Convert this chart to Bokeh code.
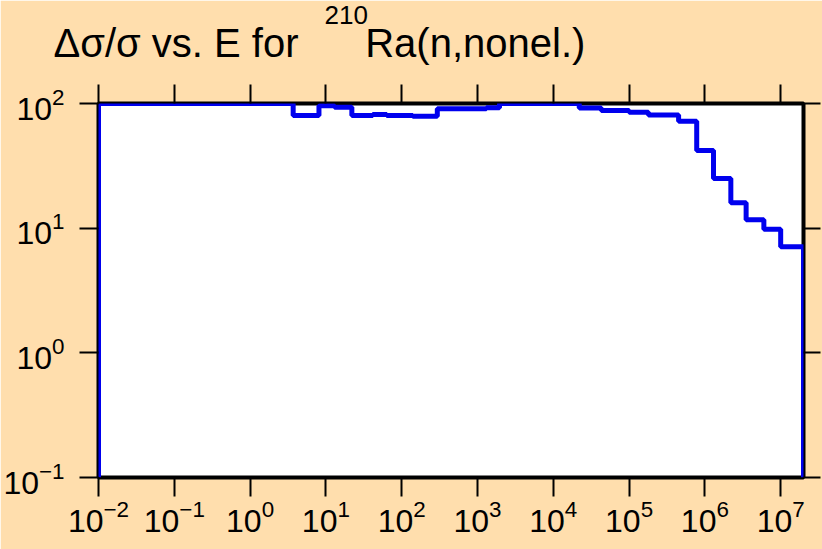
from bokeh.plotting import figure
from bokeh.models import LogAxis, FixedTicker, Range1d, Title
from bokeh.embed import file_html
from bokeh.resources import INLINE

# ---- data ----
bin_edges = [1e-2, 3.7, 8.1, 13, 22, 41.5, 63.5, 140, 295, 1310, 1950,
             2.2e4, 4.3e4, 1.0e5, 1.8e5, 4.5e5, 7.8e5, 1.3e6, 2.2e6,
             3.5e6, 6.0e6, 1.0e7, 2.0e7]
dsig_pct = [100, 80, 96, 93.5, 80, 81.7, 80, 79, 90.6, 92.3, 100,
            92, 88, 85, 81, 72, 42, 25, 16, 11.7, 9.8, 7.1]
x_ticks = [1e-2, 1e-1, 1e0, 1e1, 1e2, 1e3, 1e4, 1e5, 1e6, 1e7]
y_ticks = [1e-1, 1e0, 1e1, 1e2]
x_lim = (1e-2, 2e7)
y_lim = (1e-1, 1e2)
title_main = "Δσ/σ vs. E for"
title_sup = "210"
title_rest = "Ra(n,nonel.)"

# step outline built from the bins
xs = [bin_edges[0]]
ys = [y_lim[0]]
for i, v in enumerate(dsig_pct):
    xs += [bin_edges[i], bin_edges[i + 1]]
    ys += [v, v]
xs.append(bin_edges[-1])
ys.append(y_lim[0])

BG = "#FFDEAD"
FONT = "Liberation Sans"
NBSP = "\u00a0"

p = figure(width=822, height=549, x_axis_type="log", y_axis_type="log",
           x_range=Range1d(*x_lim), y_range=Range1d(*y_lim),
           output_backend="svg", toolbar_location=None,
           min_border_left=98, min_border_right=19,
           min_border_top=103, min_border_bottom=72,
           background_fill_color="white", border_fill_color=BG,
           outline_line_color="black", outline_line_width=4)
p.grid.visible = False

step = p.line(xs, ys, line_color="#0000ee", line_width=5)
step.level = "underlay"

top_ax = LogAxis()
right_ax = LogAxis()
p.add_layout(top_ax, "above")
p.add_layout(right_ax, "right")

for ax in p.xaxis:
    ax.ticker = FixedTicker(ticks=x_ticks)
for ax in p.yaxis:
    ax.ticker = FixedTicker(ticks=y_ticks)

for ax in list(p.xaxis) + list(p.yaxis):
    ax.axis_line_color = None
    ax.major_tick_in = 0
    ax.major_tick_out = 19
    ax.major_tick_line_color = "black"
    ax.major_tick_line_width = 2
    ax.minor_tick_line_color = None
    ax.major_label_text_font = FONT
    ax.major_label_text_font_size = "32px"
    ax.major_label_text_color = "black"

# top axis: ticks only (invisible 1px labels keep room for the title)
top_ax.major_label_text_font_size = "1px"
top_ax.major_label_text_color = BG
top_ax.major_label_standoff = 15
# right axis: ticks only
right_ax.major_label_text_font_size = "1px"
right_ax.major_label_text_color = None
right_ax.major_label_standoff = 0
right_ax.major_tick_out = 17

p.below[0].major_label_standoff = 3
p.left[0].major_label_standoff = 15

main_title = Title(text=title_main + NBSP * 6 + title_rest, align="left",
                   offset=-45, standoff=0, text_font=FONT,
                   text_font_size="40px", text_font_style="normal",
                   text_color="black")
sup_title = Title(text=title_sup, align="left", offset=226, standoff=-10,
                  text_font=FONT, text_font_size="26px",
                  text_font_style="normal", text_color="black")
p.add_layout(main_title, "above")
p.add_layout(sup_title, "above")

open("out.html", "w").write(file_html(p, INLINE))
